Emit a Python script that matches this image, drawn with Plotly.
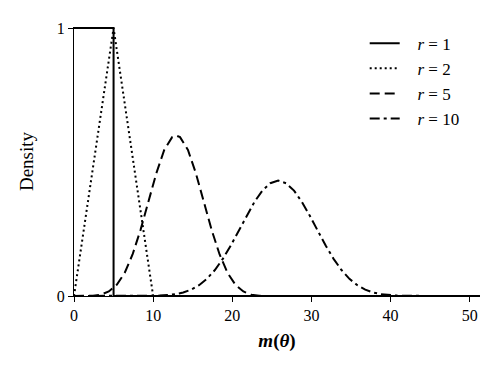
import plotly.graph_objects as go

# r = 1 : flat block (left edge is the axis itself)
r1_x = [0, 5, 5, 51.3]
r1_y = [1, 1, 0, 0]

# r = 2 : triangle
r2_x = [0, 5, 10]
r2_y = [0, 1, 0]

# r = 5 : bell curve
r5_x = [0, 1.4, 2.4, 3.4, 4.4, 5.4, 6.4, 7.4, 8.4, 9.4, 10.4, 11.4, 12.4, 12.9,
        13.4, 14.4, 15.4, 16.4, 17.4, 18.4, 19.4, 20.4, 21.4, 22.4, 23.4, 24.4,
        25.4, 30, 51.3]
r5_y = [0, 0.0001, 0.001, 0.005, 0.017, 0.042, 0.086, 0.155, 0.246, 0.352, 0.458,
        0.545, 0.593, 0.599, 0.593, 0.545, 0.458, 0.352, 0.246, 0.155,
        0.086, 0.042, 0.017, 0.005, 0.001, 0.0001, 0, 0, 0]

# r = 10 : wider bell curve
r10_x = [0, 5.8, 7.8, 8.8, 9.8, 10.8, 11.8, 12.8, 13.8, 14.8, 15.8, 16.8, 17.8,
         18.8, 19.8, 20.8, 21.8, 22.8, 23.8, 24.8, 25.8, 26.8, 27.8, 28.8, 29.8,
         30.8, 31.8, 32.8, 33.8, 34.8, 35.8, 36.8, 37.8, 38.8, 39.8, 40.8, 41.8,
         42.8, 43.8, 45.8, 50, 51.3]
r10_y = [0, 0, 0.0001, 0.0002, 0.0006, 0.0014, 0.0033, 0.0068, 0.0132, 0.0237,
         0.0402, 0.0642, 0.0969, 0.1386, 0.1882, 0.2431, 0.2992, 0.3510, 0.3933,
         0.4209, 0.4305, 0.4209, 0.3933, 0.3510, 0.2992, 0.2431, 0.1882, 0.1386,
         0.0969, 0.0642, 0.0402, 0.0237, 0.0132, 0.0068, 0.0033, 0.0014, 0.0006,
         0.0002, 0.0001, 0, 0, 0]

x_ticks = [0, 10, 20, 30, 40, 50]
y_ticks = [0, 1]

gap = "\u00a0\u00a0\u00a0"
series = [
    (gap + "<i>r</i> = 1", r1_x, r1_y, "solid"),
    (gap + "<i>r</i> = 2", r2_x, r2_y, "2px,3px"),
    (gap + "<i>r</i> = 5", r5_x, r5_y, "10px,5px"),
    (gap + "<i>r</i> = 10", r10_x, r10_y, "10px,4px,3px,4px"),
]

fig = go.Figure()
for name, xs, ys, dash in series:
    fig.add_trace(go.Scatter(x=xs, y=ys, mode="lines", name=name,
                             line=dict(color="black", width=2, dash=dash)))

# page body has an 8px margin, so the figure is 8px smaller than the window
serif = "Liberation Serif"
fig.update_layout(
    width=490, height=366,
    margin=dict(l=66, r=18, t=17, b=78),
    plot_bgcolor="white", paper_bgcolor="white",
    font=dict(family=serif, size=16, color="black"),
    showlegend=True,
    legend=dict(x=0.716, y=1.005, xanchor="left", yanchor="top",
                font=dict(family=serif, size=17), tracegroupgap=0,
                bgcolor="rgba(0,0,0,0)"),
)
fig.update_xaxes(range=[0, 51.3], tickvals=x_ticks, showline=True, linecolor="black",
                 linewidth=1, ticks="outside", ticklen=5, tickcolor="black",
                 showgrid=False, zeroline=False,
                 title=dict(text="<b><i>m</i>(<i>θ</i>)</b>", standoff=10))
fig.update_yaxes(range=[0, 1.004], tickvals=y_ticks, showline=True, linecolor="black",
                 linewidth=1, ticks="outside", ticklen=5, tickcolor="black",
                 showgrid=False, zeroline=False,
                 title=dict(text="Density", standoff=18))

fig.write_html("out.html")
